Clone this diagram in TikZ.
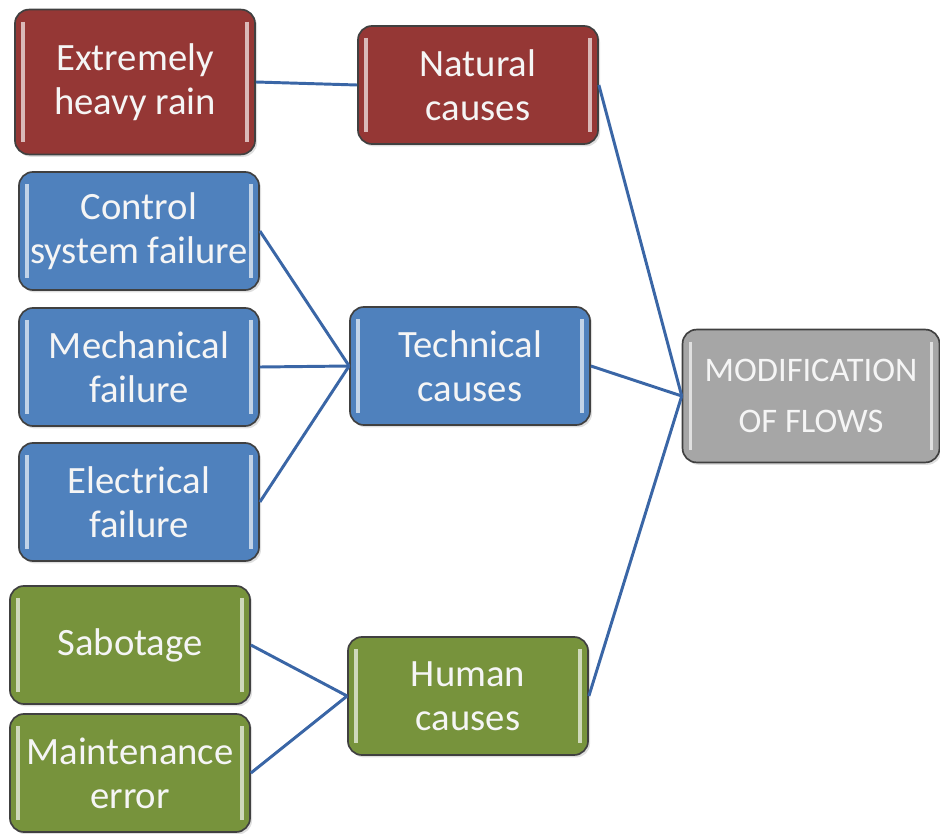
\documentclass[tikz,border=0pt]{standalone}
\usepackage{fontspec}
\setmainfont{Carlito}
\usetikzlibrary{positioning,calc,shadows}

\definecolor{natred}{RGB}{149,55,53}
\definecolor{techblue}{RGB}{79,129,189}
\definecolor{humgreen}{RGB}{119,147,60}
\definecolor{flowgray}{RGB}{166,166,166}
\definecolor{linkblue}{RGB}{58,102,166}

\tikzset{
  causebox/.style={draw=black!75, line width=1.2pt, rounded corners=0.35cm,
    fill=#1, text=white!96!black, align=center, inner sep=1pt,
    minimum width=6cm, minimum height=2.95cm,
    font=\fontsize{27.5}{31.5}\selectfont,
    drop shadow={opacity=0.25,shadow xshift=0.05cm,shadow yshift=-0.06cm},
    path picture={
      \draw[line width=2.4pt,#1!35!white]
        ([xshift=0.2cm,yshift=-0.3cm]path picture bounding box.north west) --
        ([xshift=0.2cm,yshift=0.3cm]path picture bounding box.south west);
      \draw[line width=2.4pt,#1!35!white]
        ([xshift=-0.2cm,yshift=-0.3cm]path picture bounding box.north east) --
        ([xshift=-0.2cm,yshift=0.3cm]path picture bounding box.south east);
    }},
  link/.style={draw=linkblue, line width=2.1pt}
}

\begin{document}
\begin{tikzpicture}[x=0.025cm,y=-0.025cm]
  \useasboundingbox (0,0) rectangle (940,834);

  % causes
  \node[causebox=natred, minimum height=3.62cm] (rain) at (135,82) {Extremely\\heavy rain};
  \node[causebox=natred] (natural) at (478,85) {Natural\\causes};

  \node[causebox=techblue] (control) at (139,231) {Control\\system failure};
  \node[causebox=techblue] (mech) at (139,367) {Mechanical\\failure};
  \node[causebox=techblue] (elec) at (139,502) {Electrical\\failure};
  \node[causebox=techblue] (technical) at (470,366) {Technical\\causes};

  \node[causebox=humgreen] (sabotage) at (130,645) {Sabotage};
  \node[causebox=humgreen] (maint) at (130,773) {Maintenance\\error};
  \node[causebox=humgreen] (human) at (468,696) {Human\\causes};

  \node[causebox=flowgray, minimum width=6.42cm, minimum height=3.32cm,
        font=\fontsize{24.5}{36}\selectfont] (flows) at (811,396) {MODIFICATION\\OF FLOWS};

  % connectors
  \draw[link] (rain.east) -- (natural.west);
  \draw[link] (control.east) -- (technical.west);
  \draw[link] (mech.east) -- (technical.west);
  \draw[link] (elec.east) -- (technical.west);
  \draw[link] (sabotage.east) -- (human.west);
  \draw[link] (maint.east) -- (human.west);
  \draw[link] (natural.east) -- (flows.west);
  \draw[link] (technical.east) -- (flows.west);
  \draw[link] (human.east) -- (flows.west);
\end{tikzpicture}
\end{document}
